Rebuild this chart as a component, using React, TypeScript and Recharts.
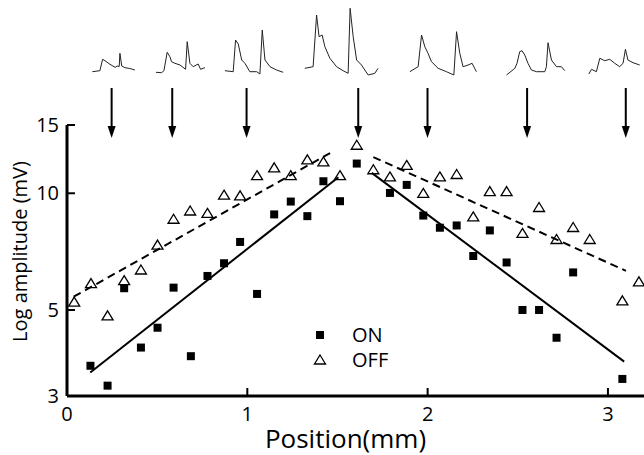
import {
  ComposedChart,
  LineChart,
  Line,
  Scatter,
  XAxis,
  YAxis,
  Legend,
  ReferenceLine,
  Label,
} from "recharts";

const FONT = "'Open Sans', sans-serif";

// recording position (mm) and log amplitude (mV)
const onPos = [0.13, 0.225, 0.317, 0.41, 0.502, 0.591, 0.687, 0.779, 0.871, 0.96, 1.054, 1.149, 1.241, 1.333, 1.422, 1.514, 1.607, 1.791, 1.884, 1.976, 2.068, 2.161, 2.253, 2.345, 2.438, 2.526, 2.618, 2.715, 2.807, 3.08];
const onAmp = [3.59, 3.19, 5.69, 4.0, 4.5, 5.71, 3.8, 6.12, 6.6, 7.49, 5.5, 8.82, 9.52, 8.73, 10.74, 9.54, 11.93, 10.02, 10.51, 8.76, 8.15, 8.26, 6.89, 8.02, 6.63, 5.0, 5.0, 4.24, 6.25, 3.32];
const offPos = [0.04, 0.133, 0.225, 0.317, 0.41, 0.502, 0.591, 0.683, 0.779, 0.871, 0.96, 1.054, 1.149, 1.241, 1.333, 1.422, 1.514, 1.607, 1.699, 1.791, 1.884, 1.976, 2.068, 2.161, 2.253, 2.345, 2.438, 2.526, 2.618, 2.715, 2.807, 2.899, 3.08, 3.172];
const offAmp = [5.24, 5.85, 4.83, 5.95, 6.34, 7.35, 8.57, 9.0, 8.87, 9.89, 9.85, 11.1, 11.63, 11.1, 12.2, 12.05, 11.1, 13.3, 11.5, 11.02, 11.8, 9.99, 11.02, 11.18, 8.69, 10.1, 10.1, 7.88, 9.19, 7.6, 8.16, 7.6, 5.28, 5.91];

// regression lines, two segments per condition
const onFitLeft = [{ x: 0.129, y: 3.45 }, { x: 1.505, y: 11.0 }];
const onFitRight = [{ x: 1.69, y: 11.29 }, { x: 3.09, y: 3.68 }];
const offFitLeft = [{ x: 0.037, y: 5.41 }, { x: 1.459, y: 12.7 }];
const offFitRight = [{ x: 1.699, y: 12.4 }, { x: 3.1, y: 6.31 }];

const xTicks = [0, 1, 2, 3];
const yTicks = [3, 5, 10, 15];

// where the example traces were recorded
const arrowPos = [0.249, 0.585, 0.997, 1.616, 2.0, 2.552, 3.099];

// example traces: [position (mm), amplitude (arbitrary units)]
const trace1: [number, number][] = [[0.142, 73.3], [0.184, 74.3], [0.199, 85.7], [0.212, 84.3], [0.24, 80.7], [0.268, 77.7], [0.28, 79], [0.291, 78.5], [0.295, 91.7], [0.305, 79], [0.323, 77.3], [0.35, 76.5], [0.378, 75]];
const trace2: [number, number][] = [[0.495, 72.7], [0.526, 72.3], [0.539, 74.3], [0.557, 92.7], [0.572, 88.3], [0.581, 83.3], [0.6, 81.7], [0.628, 80], [0.659, 75.7], [0.668, 103.3], [0.683, 81.7], [0.701, 78.3], [0.729, 81], [0.742, 75.7], [0.766, 77.3]];
const trace3: [number, number][] = [[0.877, 74.3], [0.923, 73.3], [0.936, 105], [0.951, 101], [0.97, 85], [0.988, 81.7], [1.015, 73.3], [1.053, 73.3], [1.071, 71], [1.084, 115], [1.099, 85], [1.127, 78.3], [1.163, 75], [1.2, 72.7]];
const trace4: [number, number][] = [[1.32, 76.7], [1.366, 78.3], [1.385, 130], [1.399, 108.3], [1.416, 110], [1.431, 98.3], [1.459, 86.7], [1.496, 78.3], [1.532, 74.3], [1.56, 71.7], [1.571, 136.7], [1.588, 108.3], [1.607, 85], [1.634, 80], [1.671, 70], [1.708, 71.7], [1.726, 76.7]];
const trace5: [number, number][] = [[1.902, 73.3], [1.948, 78.3], [1.967, 110], [1.985, 98.3], [2.003, 91.7], [2.022, 83.3], [2.059, 76.7], [2.105, 73.3], [2.146, 70], [2.161, 113.3], [2.179, 91.7], [2.197, 78.3], [2.225, 80], [2.247, 81.7], [2.271, 73.3]];
const trace6: [number, number][] = [[2.438, 70], [2.484, 76.7], [2.496, 81.7], [2.511, 93.3], [2.524, 94.3], [2.539, 90], [2.557, 81.7], [2.576, 75], [2.604, 73.3], [2.65, 73.3], [2.659, 78.3], [2.668, 102.3], [2.687, 85], [2.715, 78.3], [2.742, 78.3], [2.761, 74.3]];
const trace7: [number, number][] = [[2.894, 71], [2.909, 75.7], [2.936, 73.3], [2.955, 86.7], [2.982, 84.3], [3.01, 85.7], [3.038, 81.7], [3.065, 78.3], [3.084, 81.7], [3.097, 95.7], [3.111, 85], [3.139, 82.3], [3.176, 80]];
const traces = [trace1, trace2, trace3, trace4, trace5, trace6, trace7];

const toPoints = (xs: number[], ys: number[]) => xs.map((x, i) => ({ x, y: ys[i] }));
const onData = toPoints(onPos, onAmp);
const offData = toPoints(offPos, offAmp);

function Square(props: any) {
  const { cx, cy } = props;
  return <rect x={cx - 4} y={cy - 4} width={8} height={8} fill="#000" />;
}

function Triangle(props: any) {
  const { cx, cy } = props;
  return (
    <polygon
      points={`${cx},${cy - 5} ${cx + 5.5},${cy + 4} ${cx - 5.5},${cy + 4}`}
      fill="none"
      stroke="#000"
      strokeWidth={1.3}
    />
  );
}

function Arrow(props: any) {
  const { x1, y1, x2, y2 } = props;
  return (
    <g>
      <line x1={x1} y1={y1} x2={x2} y2={y2 - 10} stroke="#000" strokeWidth={2} />
      <polygon points={`${x2 - 4},${y2 - 12} ${x2 + 4},${y2 - 12} ${x2},${y2}`} fill="#000" />
    </g>
  );
}

function XTick(props: any) {
  const { x, y, payload } = props;
  return (
    <g>
      <line x1={x} x2={x} y1={y} y2={y - 8} stroke="#000" strokeWidth={2} />
      <text x={x} y={y + 25} textAnchor="middle" fontSize={20} fontFamily={FONT} fill="#000">
        {payload.value}
      </text>
    </g>
  );
}

function YTick(props: any) {
  const { x, y, payload } = props;
  return (
    <g>
      <line x1={x} x2={x + 8} y1={y} y2={y} stroke="#000" strokeWidth={2} />
      <text x={x - 8} y={y + 7} textAnchor="end" fontSize={20} fontFamily={FONT} fill="#000">
        {payload.value}
      </text>
    </g>
  );
}

function LegendBox() {
  const row = { display: "flex", alignItems: "center", height: 25 } as const;
  return (
    <div style={{ fontFamily: FONT, fontSize: 20, color: "#000", lineHeight: "25px" }}>
      <div style={row}>
        <svg width={16} height={16}>
          <rect x={4} y={4} width={8} height={8} fill="#000" />
        </svg>
        <span style={{ marginLeft: 24 }}>ON</span>
      </div>
      <div style={row}>
        <svg width={16} height={16}>
          <polygon points="8,3 13.5,12 2.5,12" fill="none" stroke="#000" strokeWidth={1.3} />
        </svg>
        <span style={{ marginLeft: 24 }}>OFF</span>
      </div>
    </div>
  );
}

export default function App() {
  return (
    <div style={{ position: "absolute", left: 0, top: 0, width: 644, height: 455, background: "#fff" }}>
      <div style={{ position: "absolute", left: 0, top: 0 }}>
        <ComposedChart width={644} height={455} margin={{ top: 125, right: 0, bottom: 0, left: 0 }}>
          <XAxis
            type="number"
            dataKey="x"
            domain={[0, 3.2]}
            ticks={xTicks}
            allowDataOverflow
            height={59}
            tickSize={0}
            tickMargin={0}
            tickLine={false}
            tick={<XTick />}
            axisLine={{ stroke: "#000", strokeWidth: 3 }}
          >
            <Label
              content={(p: any) => {
                const vb = p.viewBox || { x: 67, y: 396, width: 577 };
                return (
                  <text
                    x={vb.x + vb.width / 2 - 10}
                    y={vb.y + 52}
                    textAnchor="middle"
                    fontSize={26}
                    fontFamily={FONT}
                    fill="#000"
                  >
                    Position(mm)
                  </text>
                );
              }}
            />
          </XAxis>
          <YAxis
            type="number"
            dataKey="y"
            scale="log"
            domain={[3, 15]}
            ticks={yTicks}
            allowDataOverflow
            width={67}
            tickSize={0}
            tickMargin={0}
            tickLine={false}
            tick={<YTick />}
            axisLine={{ stroke: "#000", strokeWidth: 3 }}
          >
            <Label
              content={(p: any) => {
                const vb = p.viewBox || { x: 0, y: 125, height: 271 };
                const cx = 27;
                const cy = vb.y + vb.height / 2 - 9;
                return (
                  <text
                    x={cx}
                    y={cy}
                    transform={`rotate(-90, ${cx}, ${cy})`}
                    textAnchor="middle"
                    fontSize={20}
                    fontFamily={FONT}
                    fill="#000"
                  >
                    Log amplitude (mV)
                  </text>
                );
              }}
            />
          </YAxis>
          <Line data={onFitLeft} dataKey="y" stroke="#000" strokeWidth={2} dot={false} isAnimationActive={false} legendType="none" />
          <Line data={onFitRight} dataKey="y" stroke="#000" strokeWidth={2} dot={false} isAnimationActive={false} legendType="none" />
          <Line data={offFitLeft} dataKey="y" stroke="#000" strokeWidth={2} strokeDasharray="8 5" dot={false} isAnimationActive={false} legendType="none" />
          <Line data={offFitRight} dataKey="y" stroke="#000" strokeWidth={2} strokeDasharray="8 5" dot={false} isAnimationActive={false} legendType="none" />
          <Scatter name="ON" data={onData} shape={<Square />} isAnimationActive={false} />
          <Scatter name="OFF" data={offData} shape={<Triangle />} isAnimationActive={false} />
          <Legend
            layout="horizontal"
            verticalAlign="middle"
            align="center"
            content={() => <LegendBox />}
            wrapperStyle={{ position: "absolute", left: 312, top: 322, bottom: "auto", right: "auto", width: 120, height: 50 }}
          />
        </ComposedChart>
      </div>
      <div style={{ position: "absolute", left: 0, top: 0, pointerEvents: "none" }}>
        <LineChart width={644} height={145} margin={{ top: 0, right: 0, bottom: 0, left: 66.7 }}>
          <XAxis type="number" dataKey="x" domain={[0, 3.2]} allowDataOverflow hide />
          <YAxis type="number" domain={[0, 145]} allowDataOverflow hide />
          {traces.map((t, i) => (
            <Line
              key={i}
              data={t.map(([x, y]) => ({ x, y }))}
              dataKey="y"
              stroke="#222"
              strokeWidth={1}
              dot={false}
              isAnimationActive={false}
            />
          ))}
          {arrowPos.map((x) => (
            <ReferenceLine
              key={x}
              segment={[{ x, y: 57 }, { x, y: 7 }]}
              ifOverflow="visible"
              shape={<Arrow />}
            />
          ))}
        </LineChart>
      </div>
    </div>
  );
}
